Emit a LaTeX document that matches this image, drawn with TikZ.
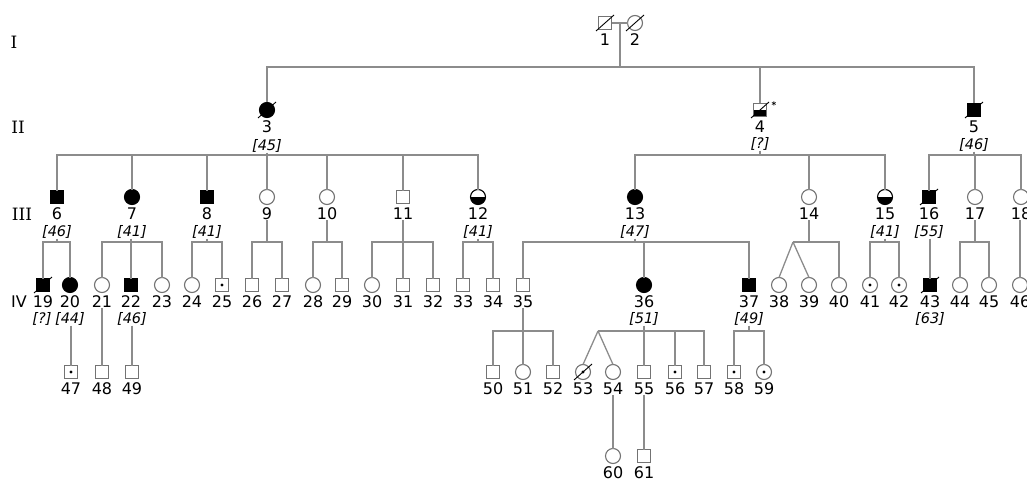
\documentclass[tikz,border=0pt]{standalone}
\usepackage{fontspec}
\newfontfamily\dv{DejaVu Sans}
\newfontfamily\dvs{DejaVu Serif}
\definecolor{lg}{RGB}{140,140,140}
\definecolor{sg}{RGB}{115,115,115}
\tikzset{
 ln/.style={draw=lg, line width=1.3pt},
 sym/.style={inner sep=0pt, outer sep=0pt, line width=1.1pt, draw=sg, fill=white},
 M/.style={sym, rectangle, minimum size=13pt},
 F/.style={sym, circle, minimum size=15pt},
 A/.style={fill=black, draw=black},
 H/.style={draw=black, path picture={\fill[black] (path picture bounding box.west) rectangle (path picture bounding box.south east);}},
 num/.style={inner sep=0pt, font=\dv\fontsize{16}{16}\selectfont},
 br/.style={inner sep=0pt, font=\dv\itshape\fontsize{14.5}{14.5}\selectfont},
 gen/.style={inner sep=0pt, font=\dvs\fontsize{17}{17}\selectfont},
 dec/.style={draw=black, line width=0.9pt},
}
\newcommand\psn[4]{\node[#4] (p#1) at (#2,#3) {}; \node[num] (l#1) at (#2,#3+17) {#1};}
\newcommand\brk[4]{\node[br] (b#1) at (#2,#3) {[#4]};}
\newcommand\dead[1]{\draw[dec] ([shift={(-9,8)}]p#1.center) -- ([shift={(9,-8)}]p#1.center);}
\newcommand\carr[1]{\fill[black] (p#1.center) circle (1.7);}
\begin{document}
\begin{tikzpicture}[x=1pt,y=-1pt]
\useasboundingbox (0,0) rectangle (1027,481);
\clip (0,0) rectangle (1027,481);
% generation labels
\node[gen] (gI) at (14,42) {I};
\node[gen] (gII) at (18,127) {II};
\node[gen] (gIII) at (22,214) {III};
\node[num] (gIV) at (19,302) {IV};
% generation I
\psn{1}{605}{23}{M} \psn{2}{635}{23}{F}
% generation II
\psn{3}{267}{110}{F,A} \psn{4}{760}{110}{M,H,draw=sg} \psn{5}{974}{110}{M,A}
\brk{3}{267}{146}{45} \brk{4}{760}{144}{?} \brk{5}{974}{145}{46}
\node[inner sep=0pt, font=\dv\bfseries\fontsize{9}{9}\selectfont] (a4) at (774,105) {*};
% generation III
\psn{6}{57}{197}{M,A} \psn{7}{132}{197}{F,A} \psn{8}{207}{197}{M,A}
\psn{9}{267}{197}{F} \psn{10}{327}{197}{F} \psn{11}{403}{197}{M}
\psn{12}{478}{197}{F,H} \psn{13}{635}{197}{F,A} \psn{14}{809}{197}{F}
\psn{15}{885}{197}{F,H} \psn{16}{929}{197}{M,A} \psn{17}{975}{197}{F}
\psn{18}{1021}{197}{F}
\brk{6}{57}{232}{46} \brk{7}{132}{232}{41} \brk{8}{207}{232}{41}
\brk{12}{478}{232}{41} \brk{13}{635}{232}{47} \brk{15}{885}{232}{41}
\brk{16}{929}{232}{55}
% generation IV
\psn{19}{43}{285}{M,A} \psn{20}{70}{285}{F,A} \psn{21}{102}{285}{F}
\psn{22}{131}{285}{M,A} \psn{23}{162}{285}{F} \psn{24}{192}{285}{F}
\psn{25}{222}{285}{M} \psn{26}{252}{285}{M} \psn{27}{282}{285}{M}
\psn{28}{313}{285}{F} \psn{29}{342}{285}{M} \psn{30}{372}{285}{F}
\psn{31}{403}{285}{M} \psn{32}{433}{285}{M} \psn{33}{463}{285}{M}
\psn{34}{493}{285}{M} \psn{35}{523}{285}{M} \psn{36}{644}{285}{F,A}
\psn{37}{749}{285}{M,A} \psn{38}{779}{285}{F} \psn{39}{809}{285}{F}
\psn{40}{839}{285}{F} \psn{41}{870}{285}{F} \psn{42}{899}{285}{F}
\psn{43}{930}{285}{M,A} \psn{44}{960}{285}{F} \psn{45}{989}{285}{F}
\psn{46}{1020}{285}{F}
\brk{19}{42}{319}{?} \brk{20}{70}{319}{44} \brk{22}{132}{319}{46}
\brk{36}{644}{319}{51} \brk{37}{749}{319}{49} \brk{43}{930}{319}{63}
% generation V
\psn{47}{71}{372}{M} \psn{48}{102}{372}{M} \psn{49}{132}{372}{M}
\psn{50}{493}{372}{M} \psn{51}{523}{372}{F} \psn{52}{553}{372}{M}
\psn{53}{583}{372}{F} \psn{54}{613}{372}{F} \psn{55}{644}{372}{M}
\psn{56}{675}{372}{M} \psn{57}{704}{372}{M} \psn{58}{734}{372}{M}
\psn{59}{764}{372}{F}
% generation VI
\psn{60}{613}{456}{F} \psn{61}{644}{456}{M}
% deceased and carriers
\dead{1} \dead{2} \dead{3} \dead{4} \dead{5} \dead{16} \dead{19} \dead{43} \dead{53}
\carr{25} \carr{41} \carr{42} \carr{47} \carr{53} \carr{56} \carr{58} \carr{59}
% connectors I
\coordinate (m12) at (620,23);
\coordinate (s0) at (620,67);
\draw[ln] (p1.east) -- (p2.west);
\draw[ln] (m12) -- (s0);
\draw[ln] (p3.north) |- (p5.north |- s0) -- (p5.north);
\draw[ln] (p4.north |- s0) -- (p4.north);
% connectors II
\coordinate (s3) at (267,155);
\draw[ln] (b3.south) -- (s3);
\draw[ln] (p6.north) |- (p12.north |- s3) -- (p12.north);
\foreach \k in {7,...,11} \draw[ln] (p\k.north |- s3) -- (p\k.north);
\coordinate (s4) at (760,155);
\draw[ln] (b4.south) -- (s4);
\draw[ln] (p13.north) |- (p15.north |- s4) -- (p15.north);
\draw[ln] (p14.north |- s4) -- (p14.north);
\coordinate (s5) at (974,155);
\draw[ln] (b5.south) -- (s5);
\draw[ln] (p16.north) |- (p18.north |- s5) -- (p18.north);
\draw[ln] (p17.north |- s5) -- (p17.north);
% connectors III
\coordinate (s6) at (57,242);
\draw[ln] (b6.south) -- (s6);
\draw[ln] (p19.north) |- (p20.north |- s6) -- (p20.north);
\coordinate (s7) at (132,242);
\draw[ln] (p22.north |- b7.south) -- (p22.north);
\draw[ln] (p21.north) |- (p23.north |- s7) -- (p23.north);
\coordinate (s8) at (207,242);
\draw[ln] (b8.south) -- (s8);
\draw[ln] (p24.north) |- (p25.north |- s8) -- (p25.north);
\coordinate (s9) at (267,242);
\draw[ln] (l9.south) -- (s9);
\draw[ln] (p26.north) |- (p27.north |- s9) -- (p27.north);
\coordinate (s10) at (327,242);
\draw[ln] (l10.south) -- (s10);
\draw[ln] (p28.north) |- (p29.north |- s10) -- (p29.north);
\coordinate (s11) at (403,242);
\draw[ln] (l11.south) -- (p31.north);
\draw[ln] (p30.north) |- (p32.north |- s11) -- (p32.north);
\coordinate (s12) at (478,242);
\draw[ln] (b12.south) -- (s12);
\draw[ln] (p33.north) |- (p34.north |- s12) -- (p34.north);
\coordinate (s13) at (635,242);
\draw[ln] (b13.south) -- (s13);
\draw[ln] (p35.north) |- (p37.north |- s13) -- (p37.north);
\draw[ln] (p36.north |- s13) -- (p36.north);
\coordinate (s14) at (809,242);
\coordinate (t14) at (793,242);
\draw[ln] (l14.south) -- (s14);
\draw[ln] (t14) -- (p40.north |- s14) -- (p40.north);
\draw[ln] (t14) -- (p38.north);
\draw[ln] (t14) -- (p39.north);
\coordinate (s15) at (885,242);
\draw[ln] (b15.south) -- (s15);
\draw[ln] (p41.north) |- (p42.north |- s15) -- (p42.north);
\draw[ln] (p43.north |- b16.south) -- (p43.north);
\coordinate (s17) at (975,242);
\draw[ln] (l17.south) -- (s17);
\draw[ln] (p44.north) |- (p45.north |- s17) -- (p45.north);
\draw[ln] (p46.north |- l18.south) -- (p46.north);
% connectors IV
\draw[ln] (p47.north |- b20.south) -- (p47.north);
\draw[ln] (l21.south) -- (p48.north);
\draw[ln] (b22.south) -- (p49.north);
\coordinate (s35) at (523,331);
\draw[ln] (l35.south) -- (p51.north);
\draw[ln] (p50.north) |- (p52.north |- s35) -- (p52.north);
\coordinate (s36) at (644,331);
\coordinate (t36) at (598,331);
\draw[ln] (b36.south) -- (p55.north);
\draw[ln] (t36) -- (p57.north |- s36) -- (p57.north);
\draw[ln] (p56.north |- s36) -- (p56.north);
\draw[ln] (t36) -- (p53.north);
\draw[ln] (t36) -- (p54.north);
\coordinate (s37) at (749,331);
\draw[ln] (b37.south) -- (s37);
\draw[ln] (p58.north) |- (p59.north |- s37) -- (p59.north);
% connectors V
\draw[ln] (l54.south) -- (p60.north);
\draw[ln] (l55.south) -- (p61.north);
\end{tikzpicture}
\end{document}
